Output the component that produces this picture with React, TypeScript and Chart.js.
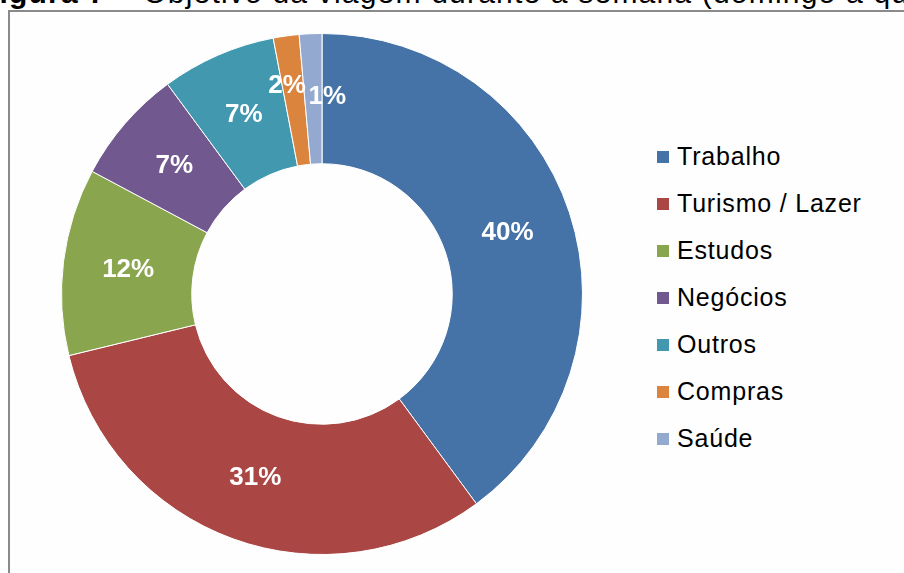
import React, { useEffect, useRef } from "react";
import { Chart, registerables } from "chart.js";

Chart.register(...registerables);

const categories = ["Trabalho", "Turismo / Lazer", "Estudos", "Negócios", "Outros", "Compras", "Saúde"];
const values = [39.9, 31.3, 11.6, 7.1, 7.1, 1.6, 1.4];
const colors = ["#4572A7", "#AA4643", "#89A54E", "#71588F", "#4198AF", "#DB843D", "#93A9CF"];
const titleBold = "Figura 7";
const titleRest = " – Objetivo da viagem durante a semana (domingo a quinta)";

const FONT = '"Liberation Sans", Arial, sans-serif';
const labelNudge: Record<number, [number, number]> = { 5: [-8, -15], 6: [14, -2] };

const pctPlugin = {
  id: "pctLabels",
  afterDatasetsDraw(chart: any) {
    const ctx = chart.ctx;
    const meta = chart.getDatasetMeta(0);
    ctx.save();
    ctx.font = `bold 26px ${FONT}`;
    ctx.fillStyle = "#ffffff";
    ctx.textAlign = "center";
    ctx.textBaseline = "middle";
    meta.data.forEach((arc: any, i: number) => {
      const p = arc.tooltipPosition(false);
      const n = labelNudge[i] || [0, 0];
      ctx.fillText(Math.round(values[i]) + "%", p.x + n[0], p.y + n[1]);
    });
    ctx.restore();
  },
};

export default function App() {
  const ref = useRef<HTMLCanvasElement | null>(null);

  useEffect(() => {
    if (!ref.current) return;
    const chart = new Chart(ref.current, {
      type: "doughnut",
      data: {
        labels: categories,
        datasets: [
          {
            data: values,
            backgroundColor: colors,
            borderColor: "#ffffff",
            borderWidth: 1,
            hoverOffset: 0,
          },
        ],
      },
      options: {
        responsive: false,
        animation: false,
        devicePixelRatio: 1,
        cutout: "50%",
        layout: { padding: 0 },
        plugins: {
          legend: { display: false },
          tooltip: { enabled: false },
        },
      },
      plugins: [pctPlugin],
    });
    return () => chart.destroy();
  }, []);

  return (
    <div
      style={{
        position: "fixed",
        left: 0,
        top: 0,
        width: 904,
        height: 573,
        overflow: "hidden",
        background: "#ffffff",
        fontFamily: FONT,
      }}
    >
      <div
        style={{
          position: "absolute",
          left: -20,
          top: -22,
          fontSize: 30,
          lineHeight: "30px",
          letterSpacing: "1.2px",
          whiteSpace: "nowrap",
          color: "#000",
        }}
      >
        <b>{titleBold}</b>
        {titleRest}
      </div>
      <div
        style={{
          position: "absolute",
          left: 8,
          top: 10,
          width: 1000,
          height: 700,
          borderLeft: "2px solid #8a8a8a",
          borderTop: "2px solid #8a8a8a",
          background: "#fefefe",
        }}
      />
      <canvas
        ref={ref}
        width={522}
        height={522}
        style={{ position: "absolute", left: 61, top: 33, width: 522, height: 522 }}
      />
      {categories.map((c, i) => (
        <div key={c} style={{ position: "absolute", left: 657, top: 141 + i * 47, height: 30 }}>
          <div
            style={{
              position: "absolute",
              left: 0,
              top: 10,
              width: 12,
              height: 12,
              background: colors[i],
            }}
          />
          <div
            style={{
              position: "absolute",
              left: 20,
              top: 0,
              fontSize: 25,
              lineHeight: "30px",
              letterSpacing: "0.8px",
              whiteSpace: "nowrap",
              color: "#000",
            }}
          >
            {c}
          </div>
        </div>
      ))}
    </div>
  );
}
